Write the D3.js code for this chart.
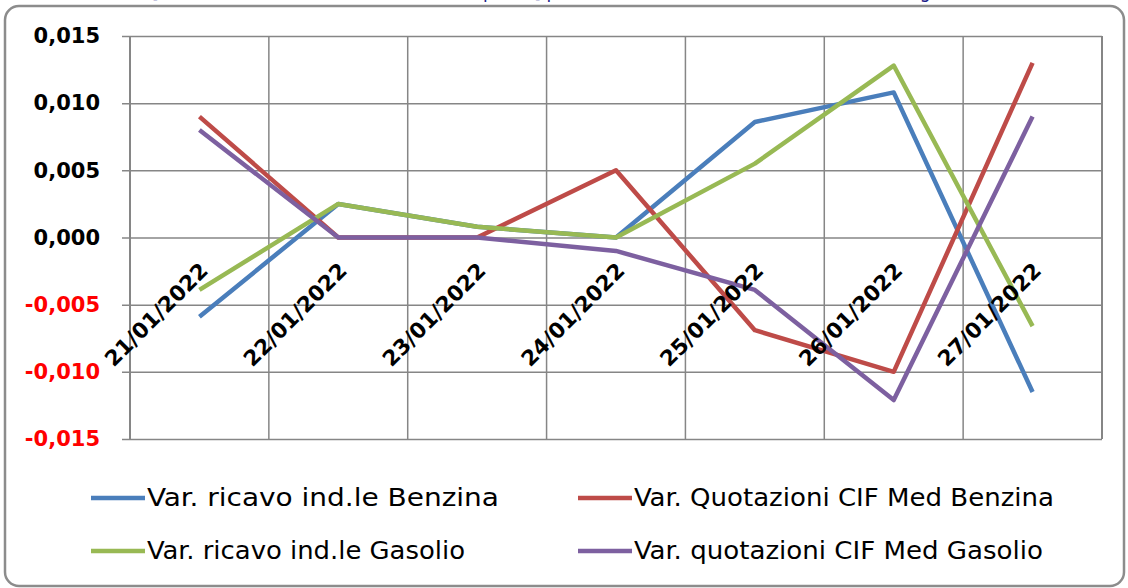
<!DOCTYPE html>
<html>
<head>
<meta charset="utf-8">
<script src="https://cdn.jsdelivr.net/npm/d3@7"></script>
<style>
  body { margin: 0; background: #fff; }
  svg { display: block; }
</style>
</head>
<body>
<svg id="chart"></svg>
<script>
let categories = ["21/01/2022", "22/01/2022", "23/01/2022", "24/01/2022", "25/01/2022", "26/01/2022", "27/01/2022"];
let seriesNames = [
  "Var. ricavo ind.le Benzina",
  "Var. Quotazioni CIF Med Benzina",
  "Var. ricavo ind.le Gasolio",
  "Var. quotazioni CIF Med Gasolio"
];
let ricavoBenzina = [-0.0059, 0.0025, 0.0008, 0.0, 0.0086, 0.0108, -0.0115];
let cifBenzina = [0.009, 0.0, 0.0, 0.005, -0.0069, -0.010, 0.013];
let ricavoGasolio = [-0.0039, 0.0025, 0.0008, 0.0, 0.0055, 0.0128, -0.0066];
let cifGasolio = [0.008, 0.0, 0.0, -0.001, -0.0039, -0.0121, 0.009];
let yTicks = [-0.015, -0.010, -0.005, 0, 0.005, 0.010, 0.015];
let titleText = "[Variazioni del ricavo industriale e dei prezzi] per Benzina, Gasolio, euro/litro - variazioni giornaliere";

let colors = ["#4a7ebb", "#be4b48", "#98b954", "#7d60a0"];
let seriesValues = [ricavoBenzina, cifBenzina, ricavoGasolio, cifGasolio];

let W = 1128, H = 588;
let plot = { left: 130, right: 1102, top: 36, bottom: 439 };

let svg = d3.select("#chart").attr("width", W).attr("height", H);

// title, mostly cut off by the top edge (as in the source image)
svg.append("text")
  .attr("x", 152).attr("y", -2)
  .attr("textLength", 860)
  .attr("lengthAdjust", "spacingAndGlyphs")
  .attr("font-family", "DejaVu Sans")
  .attr("font-size", 20)
  .attr("fill", "#1a1a8a")
  .text(titleText);

// outer rounded frame
svg.append("rect")
  .attr("x", 5).attr("y", 6)
  .attr("width", 1119).attr("height", 580)
  .attr("rx", 14).attr("ry", 14)
  .attr("fill", "none")
  .attr("stroke", "#8c8c8c")
  .attr("stroke-width", 2.5);

let x = d3.scaleBand()
  .domain(categories)
  .range([plot.left, plot.right]);

let y = d3.scaleLinear()
  .domain([-0.015, 0.015])
  .range([plot.bottom, plot.top]);

// horizontal gridlines + y axis
let yAxis = svg.append("g")
  .attr("transform", "translate(" + plot.left + ",0)")
  .call(d3.axisLeft(y).tickValues(yTicks).tickSize(-(plot.right - plot.left)).tickSizeOuter(0)
    .tickFormat(d => d3.format(".3f")(d).replace(".", ",").replace("−", "-")));
yAxis.select(".domain").remove();
yAxis.selectAll(".tick line")
  .attr("x1", -8)
  .attr("stroke", "#868686")
  .attr("stroke-width", 1.5);
yAxis.selectAll(".tick text")
  .attr("x", -30)
  .attr("font-family", "DejaVu Sans")
  .attr("font-weight", "bold")
  .attr("font-size", 21)
  .attr("fill", d => d < 0 ? "#ff0000" : "#000");

// vertical gridlines at band edges
let edges = categories.map(c => x(c)).concat([plot.right]);
svg.append("g").selectAll("line")
  .data(edges)
  .enter().append("line")
  .attr("x1", d => d).attr("x2", d => d)
  .attr("y1", plot.top).attr("y2", plot.bottom)
  .attr("stroke", "#868686")
  .attr("stroke-width", (d, i) => (i == 0 || i == edges.length - 1) ? 2 : 1.5);

// lines
let line = d3.line()
  .x((d, i) => x(categories[i]) + x.bandwidth() / 2)
  .y(d => y(d));

svg.append("g").selectAll("path")
  .data(seriesValues)
  .enter().append("path")
  .attr("d", d => line(d))
  .attr("fill", "none")
  .attr("stroke", (d, i) => colors[i])
  .attr("stroke-width", 4.5)
  .attr("stroke-linejoin", "round");

// x labels, rotated
let xAxis = svg.append("g")
  .attr("transform", "translate(0," + plot.bottom + ")")
  .call(d3.axisBottom(x).tickSize(0));
xAxis.select(".domain").remove();
xAxis.selectAll(".tick text")
  .attr("text-anchor", "end")
  .attr("x", 0).attr("y", 0).attr("dy", 0)
  .attr("transform", "translate(10," + (272 - plot.bottom) + ") rotate(-45)")
  .attr("font-family", "DejaVu Sans")
  .attr("font-weight", "bold")
  .attr("font-size", 21.5)
  .attr("fill", "#000");

// legend
let legendPos = [
  { lx: 91, ly: 498, tw: 352 },
  { lx: 578, ly: 498, tw: 420 },
  { lx: 91, ly: 551, tw: 318 },
  { lx: 578, ly: 551, tw: 409 }
];
let legend = svg.append("g").selectAll("g")
  .data(seriesNames)
  .enter().append("g")
  .attr("transform", (d, i) => "translate(" + legendPos[i].lx + "," + legendPos[i].ly + ")");
legend.append("line")
  .attr("x1", 0).attr("x2", 54)
  .attr("stroke", (d, i) => colors[i])
  .attr("stroke-width", 4.5);
legend.append("text")
  .attr("x", 56).attr("y", 8)
  .attr("textLength", (d, i) => legendPos[i].tw)
  .attr("lengthAdjust", "spacingAndGlyphs")
  .attr("font-family", "DejaVu Sans Condensed, DejaVu Sans")
  .attr("font-size", 24)
  .attr("fill", "#000")
  .text(d => d);
</script>
</body>
</html>
